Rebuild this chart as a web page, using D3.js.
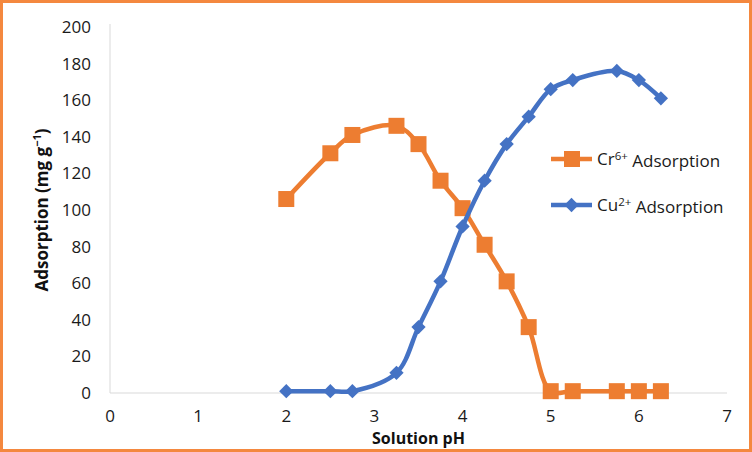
<!DOCTYPE html>
<html>
<head>
<meta charset="utf-8">
<script src="https://cdn.jsdelivr.net/npm/d3@7"></script>
<style>
  html, body { margin: 0; padding: 0; background: #fff; }
  svg { display: block; font-family: "Open Sans", sans-serif; }
</style>
</head>
<body>
<svg id="chart" width="752" height="452"></svg>
<script>
// pH values measured
const phCr = [2, 2.5, 2.75, 3.25, 3.5, 3.75, 4, 4.25, 4.5, 4.75, 5, 5.25, 5.75, 6, 6.25];
const crValues = [106, 131, 141, 146, 136, 116, 101, 81, 61, 36, 1, 1, 1, 1, 1];
const phCu = [2, 2.5, 2.75, 3.25, 3.5, 3.75, 4, 4.25, 4.5, 4.75, 5, 5.25, 5.75, 6, 6.25];
const cuValues = [1, 1, 1, 11, 36, 61, 91, 116, 136, 151, 166, 171, 176, 171, 161];
const xTicks = [0, 1, 2, 3, 4, 5, 6, 7];
const yTicks = [0, 20, 40, 60, 80, 100, 120, 140, 160, 180, 200];

const orange = "#ED7D31";
const blue = "#4472C4";

const svg = d3.select("#chart");
const W = 752, H = 452;

// orange frame
svg.append("rect")
    .attr("x", 1.5).attr("y", 1.5)
    .attr("width", W - 3).attr("height", H - 3)
    .attr("fill", "#fff")
    .attr("stroke", "#F4883F")
    .attr("stroke-width", 3);

const x = d3.scaleLinear().domain([0, 7]).range([110, 727]);
const y = d3.scaleLinear().domain([0, 200]).range([393, 27]);

// axis lines (light grey)
svg.append("line")
    .attr("x1", x(0)).attr("x2", x(0))
    .attr("y1", y(200) - 3).attr("y2", y(0))
    .attr("stroke", "#d9d9d9");
svg.append("line")
    .attr("x1", x(0)).attr("x2", x(7))
    .attr("y1", y(0)).attr("y2", y(0))
    .attr("stroke", "#d9d9d9");

// tick labels
svg.append("g").selectAll("text")
    .data(yTicks).enter().append("text")
    .attr("x", 91)
    .attr("y", d => y(d))
    .attr("dy", "0.35em")
    .attr("text-anchor", "end")
    .attr("font-size", 17)
    .attr("fill", "#1a1a1a")
    .text(d => d);

svg.append("g").selectAll("text")
    .data(xTicks).enter().append("text")
    .attr("x", d => x(d))
    .attr("y", 416)
    .attr("dy", "0.35em")
    .attr("text-anchor", "middle")
    .attr("font-size", 17)
    .attr("fill", "#1a1a1a")
    .text(d => d);

// axis titles
svg.append("text")
    .attr("x", (x(0) + x(7)) / 2)
    .attr("y", 438)
    .attr("dy", "0.35em")
    .attr("text-anchor", "middle")
    .attr("font-size", 16)
    .attr("font-weight", "bold")
    .attr("fill", "#111")
    .text("Solution pH");

const yTitle = svg.append("text")
    .attr("transform", `translate(42,${(y(0) + y(200)) / 2}) rotate(-90)`)
    .attr("dy", "0.35em")
    .attr("text-anchor", "middle")
    .attr("font-size", 17)
    .attr("font-weight", "bold")
    .attr("fill", "#111");
yTitle.append("tspan").text("Adsorption (mg g");
yTitle.append("tspan").attr("font-size", 11).attr("dy", "-0.6em").text("\u22121");
yTitle.append("tspan").attr("dy", "0.4em").text(")");

const line = d3.line()
    .x(d => x(d[0]))
    .y(d => y(d[1]))
    .curve(d3.curveCatmullRom.alpha(0.5));

const crData = phCr.map((p, i) => [p, crValues[i]]);
const cuData = phCu.map((p, i) => [p, cuValues[i]]);

svg.append("path")
    .attr("d", line(crData))
    .attr("fill", "none")
    .attr("stroke", orange)
    .attr("stroke-width", 4.5);

svg.append("g").selectAll("rect")
    .data(crData).enter().append("rect")
    .attr("x", d => x(d[0]) - 8)
    .attr("y", d => y(d[1]) - 8)
    .attr("width", 16).attr("height", 16)
    .attr("fill", orange);

svg.append("path")
    .attr("d", line(cuData))
    .attr("fill", "none")
    .attr("stroke", blue)
    .attr("stroke-width", 4.5);

const diamond = d3.symbol().type(d3.symbolDiamond2).size(130);
svg.append("g").selectAll("path")
    .data(cuData).enter().append("path")
    .attr("transform", d => `translate(${x(d[0])},${y(d[1])})`)
    .attr("d", diamond)
    .attr("fill", blue);

// legend
const legend = [
    { label: "Cr", sup: "6+", color: orange, shape: "square", ly: 159 },
    { label: "Cu", sup: "2+", color: blue, shape: "diamond", ly: 205 }
];
const lg = svg.append("g").selectAll("g")
    .data(legend).enter().append("g")
    .attr("transform", d => `translate(0,${d.ly})`);

lg.append("line")
    .attr("x1", 551).attr("x2", 592)
    .attr("stroke", d => d.color)
    .attr("stroke-width", 4.5);

lg.each(function (d) {
    const g = d3.select(this);
    if (d.shape === "square") {
        g.append("rect").attr("x", 564).attr("y", -8)
            .attr("width", 16).attr("height", 16).attr("fill", d.color);
    } else {
        g.append("path").attr("transform", "translate(571.5,0)")
            .attr("d", diamond).attr("fill", d.color);
    }
});

const lt = lg.append("text")
    .attr("x", 597)
    .attr("dy", "0.35em")
    .attr("font-size", 17)
    .attr("fill", "#1a1a1a");
lt.append("tspan").text(d => d.label);
lt.append("tspan").attr("font-size", 11.5).attr("dy", "-0.45em").text(d => d.sup);
lt.append("tspan").attr("dy", "0.45em").text(" Adsorption");
</script>
</body>
</html>
